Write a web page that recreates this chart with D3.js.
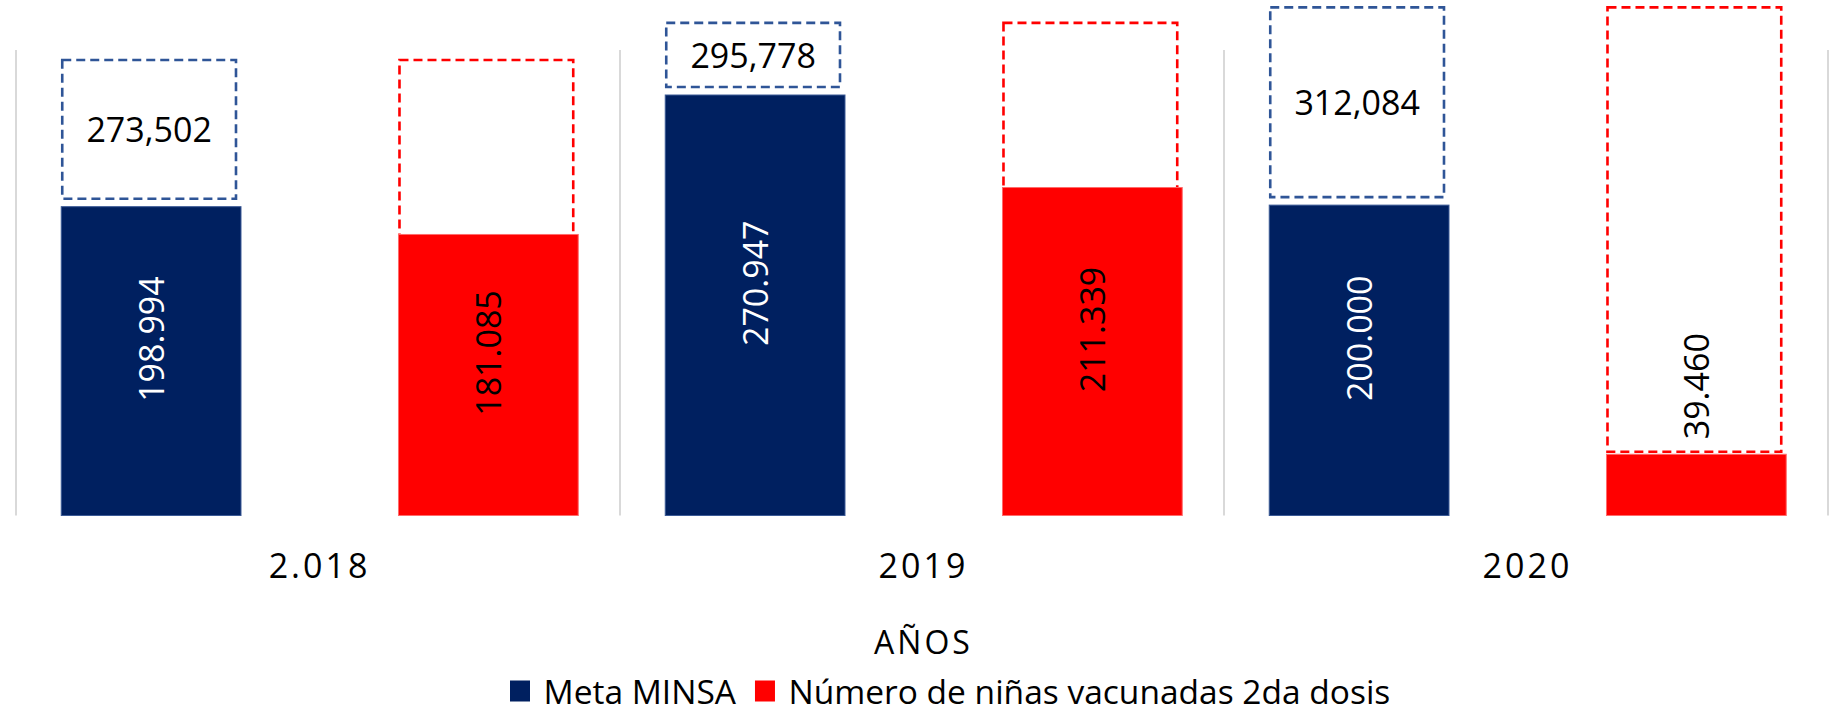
<!DOCTYPE html>
<html lang="es">
<head>
<meta charset="utf-8">
<title>Meta MINSA vs niñas vacunadas</title>
<script src="https://cdn.jsdelivr.net/npm/d3@7/dist/d3.min.js"></script>
<style>
  html, body { margin: 0; padding: 0; background: #fff; }
  svg { display: block; font-family: "Open Sans", "Noto Sans", sans-serif; }
</style>
</head>
<body>
<div id="chart"></div>
<script>
// Data
const categories = ["2.018", "2019", "2020"];
const seriesKeys = ["meta", "vac"];
const seriesNames = ["Meta MINSA", "Número de niñas vacunadas 2da dosis"];
const metaMinsa = [198994, 270947, 200000];
const vacunadas = [181085, 211339, 39460];
// dashed outline series (plotted on its own hidden axis)
const poblacion = [273502, 295778, 312084];

const W = 1831, H = 714;
const BASE = 515.5, TOP = 7.4;
const COLOR = { meta: "#002060", vac: "#ff0000" };
const DASH_COLOR = { meta: "#2f5597", vac: "#ff0000" };
const FONT = 34;
const INSIDE_MIN = 160; // bars shorter than this get their label above

const esFmt = d3.formatLocale({ decimal: ",", thousands: ".", grouping: [3], currency: ["", ""] }).format(",");
const enFmt = d3.format(",");

const svg = d3.select("#chart").append("svg")
  .attr("width", W).attr("height", H).attr("viewBox", `0 0 ${W} ${H}`);

const x0 = d3.scaleBand().domain(categories).range([16, 1828]).padding(0);
const x1 = d3.scaleBand().domain(seriesKeys).range([0, x0.bandwidth()])
  .paddingInner(0.467).paddingOuter(0.129).align(0.52);
const y  = d3.scaleLinear().domain([0, 327400]).range([BASE, TOP]);
const y2 = d3.scaleLinear().domain([0, 305100]).range([BASE, TOP]).clamp(true);

const rows = categories.map((c, i) => ({
  cat: c, pob: poblacion[i],
  bars: [
    { key: "meta", cat: c, value: metaMinsa[i], pob: poblacion[i] },
    { key: "vac",  cat: c, value: vacunadas[i], pob: poblacion[i] },
  ],
}));

// gap between dashed box and bar top; red boxes tuck under tall bars
function boxGap(d) {
  if (d.key === "meta") return 8;
  return (BASE - y(d.value)) > INSIDE_MIN ? -2 : 2.5;
}

// Category separators
const sepX = categories.map(c => x0(c)).concat([x0.range()[1]]);
svg.append("g").selectAll("line").data(sepX).join("line")
  .attr("x1", d => d).attr("x2", d => d)
  .attr("y1", 50).attr("y2", BASE)
  .attr("stroke", "#d9d9d9").attr("stroke-width", 2);

const groups = svg.append("g").selectAll("g").data(rows).join("g")
  .attr("transform", d => `translate(${x0(d.cat)},0)`);

// Dashed outline boxes (drawn first, bars cover their lower part)
groups.selectAll("rect.outline").data(d => d.bars).join("rect")
  .attr("class", "outline")
  .attr("x", d => x1(d.key) + 1)
  .attr("width", x1.bandwidth() - 6)
  .attr("y", d => y2(d.pob))
  .attr("height", d => (y(d.value) - boxGap(d)) - y2(d.pob))
  .attr("fill", "none")
  .attr("stroke", d => DASH_COLOR[d.key])
  .attr("stroke-width", 2.6)
  .attr("stroke-dasharray", "9,5");

// Solid bars
groups.selectAll("rect.bar").data(d => d.bars).join("rect")
  .attr("class", "bar")
  .attr("x", d => x1(d.key))
  .attr("width", x1.bandwidth())
  .attr("y", d => y(d.value))
  .attr("height", d => BASE - y(d.value))
  .attr("fill", d => COLOR[d.key])
  .attr("stroke", d => d.key === "meta" ? "#3b5a96" : "#ff6b6b")
  .attr("stroke-width", 1);

// Labels inside the blue dashed boxes
groups.append("text")
  .attr("x", x1("meta") + 1 + (x1.bandwidth() - 6) / 2)
  .attr("y", (d, i) => (y2(d.pob) + y(metaMinsa[i]) - 8) / 2)
  .attr("text-anchor", "middle").attr("dominant-baseline", "central")
  .attr("font-size", FONT).attr("fill", "#000")
  .text(d => enFmt(d.pob));

// Rotated value labels
groups.selectAll("text.val").data(d => d.bars).join("text")
  .attr("class", "val")
  .attr("font-size", FONT)
  .attr("dominant-baseline", "central")
  .attr("fill", d => d.key === "meta" ? "#fff" : "#000")
  .each(function (d) {
    const cx = x1(d.key) + x1.bandwidth() / 2;
    const h = BASE - y(d.value);
    const t = d3.select(this).text(esFmt(d.value));
    if (h > INSIDE_MIN) {
      const cy = (y(d.value) + BASE) / 2 - 22;
      t.attr("text-anchor", "middle")
        .attr("transform", `translate(${cx},${cy}) rotate(-90)`);
    } else {
      t.attr("text-anchor", "start")
        .attr("transform", `translate(${cx},${y(d.value) - 15}) rotate(-90)`);
    }
  });

// Category axis labels
svg.append("g").selectAll("text").data(categories).join("text")
  .attr("x", d => x0(d) + x0.bandwidth() / 2 + 1.5)
  .attr("y", 565)
  .attr("text-anchor", "middle").attr("dominant-baseline", "central")
  .attr("font-size", FONT).attr("letter-spacing", "3px").attr("fill", "#000")
  .text(d => d);

// Axis title
svg.append("text")
  .attr("x", (x0.range()[0] + x0.range()[1]) / 2 + 1.5).attr("y", 641)
  .attr("text-anchor", "middle").attr("dominant-baseline", "central")
  .attr("font-size", 32).attr("letter-spacing", "3px").attr("fill", "#000")
  .text("AÑOS");

// Legend
const legend = svg.append("g").attr("transform", "translate(510,691)");
let lx = 0;
seriesKeys.forEach((k, i) => {
  const item = legend.append("g").attr("transform", `translate(${lx},0)`);
  item.append("rect").attr("x", 0).attr("y", -10.5).attr("width", 20).attr("height", 21)
    .attr("fill", COLOR[k]);
  const txt = item.append("text").attr("x", 33.5).attr("y", 0)
    .attr("dominant-baseline", "central").attr("font-size", 33.5).attr("fill", "#000")
    .text(seriesNames[i]);
  lx += 33.5 + txt.node().getComputedTextLength() + 19;
});
</script>
</body>
</html>
